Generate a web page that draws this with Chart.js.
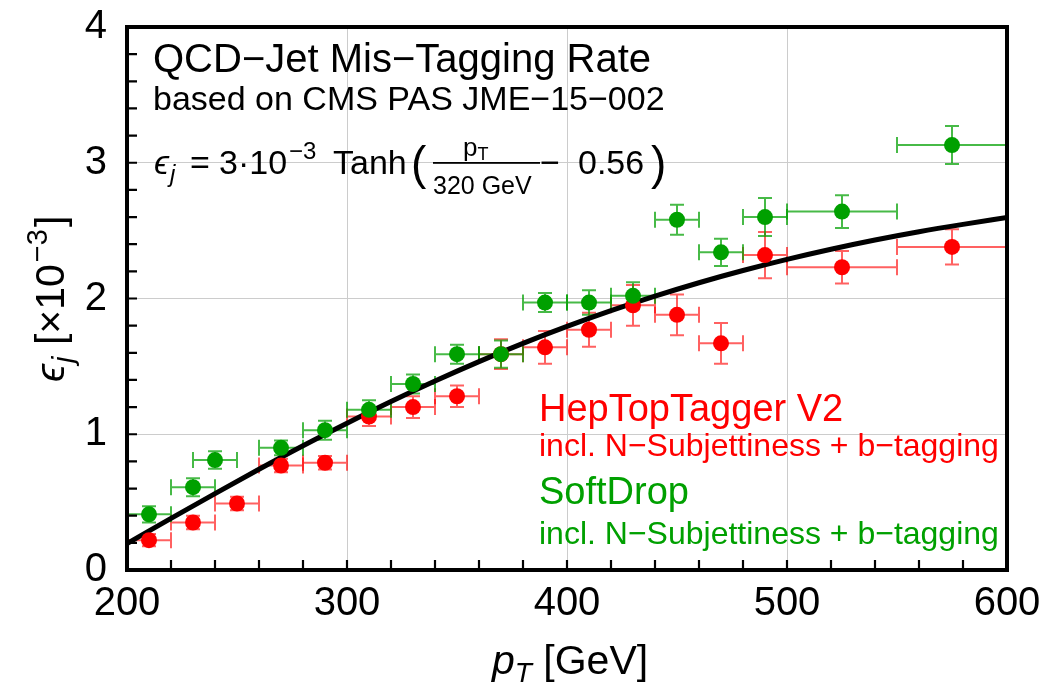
<!DOCTYPE html>
<html>
<head>
<meta charset="utf-8">
<script src="https://cdn.jsdelivr.net/npm/chart.js@4/dist/chart.umd.min.js"></script>
<style>
html,body{margin:0;padding:0;background:#fff;}
#c{display:block;}
</style>
</head>
<body>
<canvas id="c" width="1042" height="692"></canvas>
<script>
// ---- data ----
const redX     = [210,230,250,270,290,310,330,350,370,390,410,430,450,470,490,525,575];
const redY     = [0.22,0.35,0.49,0.77,0.79,1.13,1.20,1.28,1.59,1.64,1.77,1.95,1.88,1.67,2.32,2.23,2.38];
const redYErr  = [0.045,0.05,0.05,0.05,0.05,0.07,0.08,0.08,0.11,0.12,0.125,0.15,0.15,0.15,0.17,0.12,0.13];
const redXErr  = [10,10,10,10,10,10,10,10,10,10,10,10,10,10,10,25,25];

const greenX    = [210,230,240,270,290,310,330,350,370,390,410,430,450,470,490,525,575];
const greenY    = [0.41,0.61,0.81,0.90,1.03,1.18,1.37,1.59,1.59,1.97,1.97,2.02,2.58,2.34,2.60,2.64,3.13];
const greenYErr = [0.06,0.066,0.064,0.054,0.07,0.07,0.07,0.07,0.10,0.07,0.09,0.10,0.11,0.10,0.14,0.12,0.14];
const greenXErr = [10,10,10,10,10,10,10,10,10,10,10,10,10,10,10,25,25];

// fit curve
const curveX = [200,220,240,260,280,300,320,340,360,380,400,420,440,460,480,500,520,540,560,580,600];
const curveY = [0.195,0.380,0.563,0.742,0.915,1.081,1.241,1.392,1.535,1.669,1.794,1.910,2.017,2.116,2.206,2.288,2.363,2.431,2.492,2.546,2.596];

const xTicks = [200,300,400,500,600];
const yTicks = [0,1,2,3,4];

const RED = '#ff0000', GREEN = '#00a000';
const FONT = "'Liberation Sans', Arial, 'DejaVu Sans', sans-serif";

function pts(xs, ys){ return xs.map((x,i)=>({x:x, y:ys[i]})); }

const errorBars = {
  id:'errorBars',
  beforeDatasetsDraw(chart){
    const ctx = chart.ctx, xs = chart.scales.x, ys = chart.scales.y;
    const sets = [
      {x:redX, y:redY, ex:redXErr, ey:redYErr, col:'rgba(255,0,0,0.62)'},
      {x:greenX, y:greenY, ex:greenXErr, ey:greenYErr, col:'rgba(0,160,0,0.72)'}
    ];
    ctx.save();
    ctx.lineWidth = 2;
    sets.forEach(s=>{
      ctx.strokeStyle = s.col;
      s.x.forEach((xv,i)=>{
        const px = xs.getPixelForValue(xv), py = ys.getPixelForValue(s.y[i]);
        const x1 = xs.getPixelForValue(xv - s.ex[i]), x2 = xs.getPixelForValue(xv + s.ex[i]);
        const y1 = ys.getPixelForValue(s.y[i] - s.ey[i]), y2 = ys.getPixelForValue(s.y[i] + s.ey[i]);
        ctx.beginPath();
        ctx.moveTo(x1, py); ctx.lineTo(x2, py);
        ctx.moveTo(x1, py-8); ctx.lineTo(x1, py+8);
        ctx.moveTo(x2, py-8); ctx.lineTo(x2, py+8);
        ctx.moveTo(px, y1); ctx.lineTo(px, y2);
        ctx.moveTo(px-7, y1); ctx.lineTo(px+7, y1);
        ctx.moveTo(px-7, y2); ctx.lineTo(px+7, y2);
        ctx.stroke();
      });
    });
    ctx.restore();
  }
};

function txt(ctx, s, x, y, font, color){
  ctx.font = font; ctx.fillStyle = color || '#000';
  ctx.fillText(s, x, y);
  return x + ctx.measureText(s).width;
}

const decor = {
  id:'decor',
  afterDraw(chart){
    const ctx = chart.ctx, a = chart.chartArea, xs = chart.scales.x, ys = chart.scales.y;
    ctx.save();
    // inward ticks
    ctx.strokeStyle = '#000'; ctx.lineWidth = 2.2;
    ctx.beginPath();
    for (let v = 220; v < 600; v += 20){
      const px = xs.getPixelForValue(v);
      ctx.moveTo(px, a.bottom); ctx.lineTo(px, a.bottom - 10);
    }
    for (let k = 1; k < 20; k++){
      const py = ys.getPixelForValue(k*0.2);
      ctx.moveTo(a.left, py); ctx.lineTo(a.left + 10, py);
    }
    ctx.stroke();
    // frame
    ctx.lineWidth = 4;
    ctx.strokeRect(a.left, a.top, a.right - a.left, a.bottom - a.top);

    ctx.textBaseline = 'alphabetic'; ctx.textAlign = 'left';
    // title block
    txt(ctx, 'QCD\u2212Jet Mis\u2212Tagging Rate', 153, 72, '40px '+FONT);
    txt(ctx, 'based on CMS PAS JME\u221215\u2212002', 153, 110, '34px '+FONT);

    // formula
    const bl = 174;
    let x = txt(ctx, '\u03F5', 154, bl, 'italic 34px '+FONT);
    txt(ctx, 'j', x + 1, bl + 8, 'italic 24px '+FONT);
    txt(ctx, '=', 190, bl, '34px '+FONT);
    x = txt(ctx, '3\u00B710', 219, bl, '34px '+FONT);
    txt(ctx, '\u22123', x + 2, bl - 15, '24px '+FONT);
    txt(ctx, 'Tanh', 333, bl, '34px '+FONT);
    txt(ctx, '(', 411, bl + 5, '46px '+FONT);
    ctx.fillRect(433, 162, 107, 1.8);
    x = txt(ctx, 'p', 463, 156, '26px '+FONT);
    txt(ctx, 'T', x, 160, '18px '+FONT);
    txt(ctx, '320 GeV', 433, 194, '25px '+FONT);
    txt(ctx, '\u2212', 540, bl, '34px '+FONT);
    txt(ctx, '0.56', 578, bl, '34px '+FONT);
    txt(ctx, ')', 651, bl + 5, '46px '+FONT);

    // legend texts
    txt(ctx, 'HepTopTagger V2', 539, 421, '38px '+FONT, RED);
    txt(ctx, 'incl. N\u2212Subjettiness + b\u2212tagging', 539, 456, '32px '+FONT, RED);
    txt(ctx, 'SoftDrop', 539, 504, '38px '+FONT, GREEN);
    txt(ctx, 'incl. N\u2212Subjettiness + b\u2212tagging', 539, 544, '32px '+FONT, GREEN);

    // x-axis title
    x = txt(ctx, 'p', 492, 674, 'italic 41px '+FONT);
    x = txt(ctx, 'T', x, 682, 'italic 28px '+FONT);
    txt(ctx, ' [GeV]', x, 674, '41px '+FONT);

    // y-axis title (rotated)
    ctx.translate(64, 382);
    ctx.rotate(-Math.PI/2);
    x = txt(ctx, '\u03F5', 0, 0, 'italic 41px '+FONT);
    x = txt(ctx, 'j', x + 1, 9, 'italic 29px '+FONT);
    x = txt(ctx, ' [\u00D710', x, 0, '41px '+FONT);
    x = txt(ctx, '\u22123', x + 2, -17, '29px '+FONT);
    txt(ctx, ']', x + 2, 0, '41px '+FONT);
    ctx.restore();
  }
};

new Chart(document.getElementById('c'), {
  type:'scatter',
  data:{
    datasets:[
      {label:'SoftDrop', data:pts(greenX, greenY), backgroundColor:GREEN, borderColor:GREEN,
       pointRadius:8, pointBorderWidth:0, order:0},
      {label:'HepTopTagger V2', data:pts(redX, redY), backgroundColor:RED, borderColor:RED,
       pointRadius:8, pointBorderWidth:0, order:1},
      {label:'fit', data:pts(curveX, curveY), showLine:true, borderColor:'#000', borderWidth:5,
       pointRadius:0, cubicInterpolationMode:'monotone', order:2}
    ]
  },
  options:{
    responsive:false, animation:false, devicePixelRatio:1,
    layout:{padding:{top:27, right:35, left:0, bottom:0}},
    plugins:{legend:{display:false}, tooltip:{enabled:false}},
    scales:{
      x:{type:'linear', min:200, max:600,
         afterBuildTicks(s){ s.ticks = xTicks.map(v=>({value:v})); },
         afterFit(s){ s.height = 122; s.paddingLeft = 0; s.paddingRight = 0; },
         grid:{color:'#cccccc', lineWidth:1, drawTicks:false},
         border:{display:false},
         ticks:{font:{size:40, family:FONT}, color:'#000', padding:10, maxRotation:0}},
      y:{type:'linear', min:0, max:4,
         afterBuildTicks(s){ s.ticks = yTicks.map(v=>({value:v})); },
         afterFit(s){ s.width = 127; s.paddingTop = 0; s.paddingBottom = 0; },
         grid:{color:'#cccccc', lineWidth:1, drawTicks:false},
         border:{display:false},
         ticks:{font:{size:40, family:FONT}, color:'#000', padding:20}}
    }
  },
  plugins:[errorBars, decor]
});
</script>
</body>
</html>
